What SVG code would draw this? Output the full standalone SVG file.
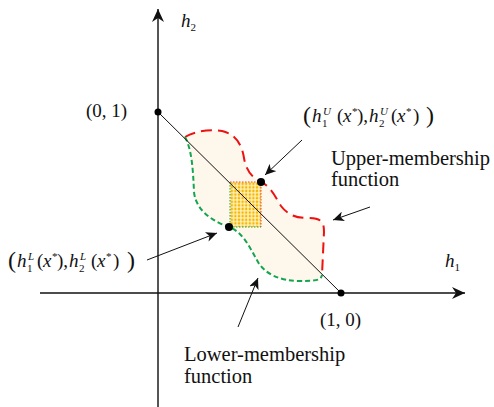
<svg xmlns="http://www.w3.org/2000/svg" width="494" height="407" viewBox="0 0 494 407">
<style>
text{font-family:"Liberation Serif","Times New Roman",serif;fill:#111}
.lbl{font-size:19px}
.fn{font-size:20.5px}
.it{font-style:italic}
.sm{font-size:11px}
.big{font-size:24px}
.ax{stroke:#111;stroke-width:1.6;fill:none}
.axv{stroke:#555;stroke-width:2;fill:none}
.ptr{stroke:#111;stroke-width:1;fill:none}
</style>
<defs>
<marker id="axh" markerUnits="userSpaceOnUse" markerWidth="14" markerHeight="12" refX="13" refY="6" orient="auto">
<path d="M0,0 L13,6 L0,12 L4,6 Z" fill="#111"/>
</marker>
<marker id="ah" markerUnits="userSpaceOnUse" markerWidth="12" markerHeight="10" refX="11" refY="5" orient="auto">
<path d="M0,0 L11,5 L0,10 L3,5 Z" fill="#111"/>
</marker>
<pattern id="dots" patternUnits="userSpaceOnUse" width="3.6" height="3.6" x="230" y="182">
<rect width="3.6" height="3.6" fill="#FFF1B8"/>
<circle cx="1.8" cy="1.8" r="1.25" fill="#F7B500"/>
</pattern>
</defs>
<g id="axes">
<line class="axv" x1="158" y1="407" x2="158" y2="9" marker-end="url(#axh)"/>
<line class="ax" x1="40" y1="293" x2="465" y2="293" marker-end="url(#axh)"/>
<text class="lbl it" x="181" y="27">h<tspan class="sm" font-style="normal" dy="4">2</tspan></text>
<text class="lbl it" x="445" y="267">h<tspan class="sm" font-style="normal" dy="4">1</tspan></text>
</g>
<g id="region">
<path d="M185,137 C195,131 210,129 222,131 C236,134 242,145 244,158 C246,170 252,178 261,182 C270,186 275,196 281,206 C287,214 295,218 307,218 C322,218 324,222 324,232 L322,275 C321,280 318,281 300,281 C280,281 265,274 258,262 C250,248 243,232 229,227 C215,222 196,212 194,192 C193,170 192,150 185,137 Z" fill="#FEF8EC"/>
<rect x="230" y="182" width="31" height="45" fill="url(#dots)"/>
<path d="M230,182 H261 V227" fill="none" stroke="#F04040" stroke-width="1" stroke-dasharray="1.5,1.5"/>
<path d="M230,182 V227 H261" fill="none" stroke="#20A040" stroke-width="1" stroke-dasharray="1.5,1.5"/>
<path id="upper" d="M185,137 C195,131 210,129 222,131 C236,134 242,145 244,158 C246,170 252,178 261,182 C270,186 275,196 281,206 C287,214 295,218 307,218 C322,218 324,222 324,232 L322,275" fill="none" stroke="#EE1111" stroke-width="2" stroke-dasharray="11,6"/>
<path id="lower" d="M185,137 C192,150 193,170 194,192 C196,212 215,222 229,227 C243,232 250,248 258,262 C265,274 280,281 300,281 C318,281 321,280 322,275" fill="none" stroke="#14A550" stroke-width="2" stroke-dasharray="5,3"/>
</g>
<g id="diagonal">
<line x1="158" y1="112" x2="341" y2="293" stroke="#111" stroke-width="1"/>
<circle cx="158" cy="112" r="3.5" fill="#000"/>
<circle cx="341" cy="293" r="3.5" fill="#000"/>
<text class="lbl" x="86" y="117">(0, 1)</text>
<text class="lbl" x="320" y="326">(1, 0)</text>
</g>
<g id="pointU">
<circle cx="261" cy="182" r="4" fill="#000"/>
<text class="lbl"><tspan class="big" x="303" y="123">(</tspan><tspan class="it" x="312" y="122">h</tspan><tspan class="sm" x="322" y="127">1</tspan><tspan class="sm it" x="323" y="115">U</tspan><tspan x="337" y="122">(</tspan><tspan class="it" x="343" y="122">x</tspan><tspan class="sm" x="352" y="115">*</tspan><tspan x="357" y="122">),</tspan><tspan class="it" x="369" y="122">h</tspan><tspan class="sm" x="379" y="127">2</tspan><tspan class="sm it" x="380" y="115">U</tspan><tspan x="391" y="122">(</tspan><tspan class="it" x="397" y="122">x</tspan><tspan class="sm" x="406" y="115">*</tspan><tspan x="413" y="122">)</tspan><tspan class="big" x="426" y="123">)</tspan></text>
</g>
<g id="pointL">
<circle cx="229" cy="227" r="4" fill="#000"/>
<text class="lbl"><tspan class="big" x="8" y="268">(</tspan><tspan class="it" x="17" y="267">h</tspan><tspan class="sm" x="27" y="272">1</tspan><tspan class="sm it" x="28" y="260">L</tspan><tspan x="37" y="267">(</tspan><tspan class="it" x="43" y="267">x</tspan><tspan class="sm" x="52" y="260">*</tspan><tspan x="57" y="267">),</tspan><tspan class="it" x="69" y="267">h</tspan><tspan class="sm" x="79" y="272">2</tspan><tspan class="sm it" x="80" y="260">L</tspan><tspan x="91" y="267">(</tspan><tspan class="it" x="97" y="267">x</tspan><tspan class="sm" x="106" y="260">*</tspan><tspan x="113" y="267">)</tspan><tspan class="big" x="127" y="268">)</tspan></text>
</g>
<g id="upperLabel">
<text class="fn" x="331" y="165">Upper-membership</text>
<text class="fn" x="331" y="186">function</text>
</g>
<g id="lowerLabel">
<text class="fn" x="184" y="361">Lower-membership</text>
<text class="fn" x="184" y="383">function</text>
</g>
<g id="connectors">
<line class="ptr" x1="302" y1="140" x2="265" y2="175" marker-end="url(#ah)"/>
<line class="ptr" x1="370" y1="207" x2="333" y2="220" marker-end="url(#ah)"/>
<line class="ptr" x1="147" y1="260" x2="217" y2="233" marker-end="url(#ah)"/>
<line class="ptr" x1="238" y1="327" x2="258" y2="278" marker-end="url(#ah)"/>
</g>
</svg>
